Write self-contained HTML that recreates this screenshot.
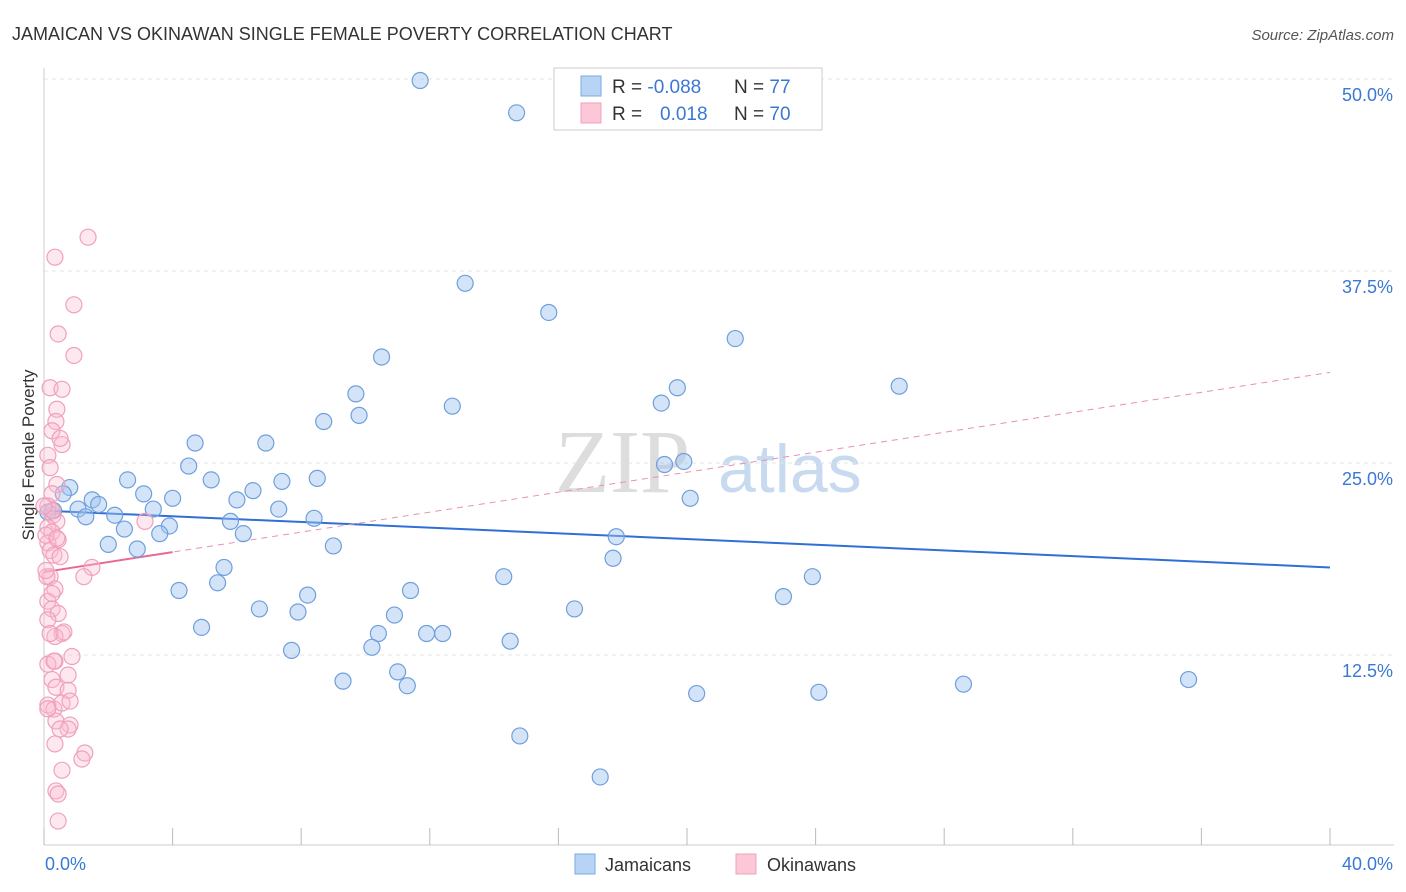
<!DOCTYPE html>
<html><head><meta charset="utf-8"><style>
body{margin:0;background:#fff;font-family:"Liberation Sans",sans-serif;}
svg{display:block}
</style></head><body>
<svg id="chart" width="1406" height="892" xmlns="http://www.w3.org/2000/svg">
<text x="12" y="40" font-size="18" fill="#333">JAMAICAN VS OKINAWAN SINGLE FEMALE POVERTY CORRELATION CHART</text>
<text x="1394" y="40" font-size="15" fill="#555" text-anchor="end" font-style="italic">Source: ZipAtlas.com</text>
<text x="555" y="492" font-size="90" fill="#ddd" font-family="Liberation Serif">ZIP</text>
<text x="718" y="492" font-size="68" fill="#c8daf0">atlas</text>
<g id="grid"></g>
<g id="axes"></g>
<text transform="translate(34,455) rotate(-90)" font-size="17" fill="#333" text-anchor="middle">Single Female Poverty</text>
<g id="trends"></g>
<g id="pts"></g>
<g>
<rect x="554" y="68" width="268" height="62" fill="#fff" stroke="#ccc"/>
<rect x="581" y="76" width="20" height="20" fill="#b8d4f4" stroke="#7aaae0"/>
<rect x="581" y="103" width="20" height="20" fill="#fcc8d8" stroke="#f0a0bc"/>
<text x="612" y="93" font-size="19" fill="#333">R = <tspan fill="#3a78d4">-0.088</tspan></text>
<text x="734" y="93" font-size="19" fill="#333">N = <tspan fill="#3a78d4">77</tspan></text>
<text x="612" y="120" font-size="19" fill="#333">R = <tspan fill="#3a78d4" x="660">0.018</tspan></text>
<text x="734" y="120" font-size="19" fill="#333">N = <tspan fill="#3a78d4">70</tspan></text>
</g>
<g>
<rect x="575" y="854" width="20" height="20" fill="#b8d4f4" stroke="#7aaae0"/>
<text x="605" y="871" font-size="18" fill="#333">Jamaicans</text>
<rect x="736" y="854" width="20" height="20" fill="#fcc8d8" stroke="#f0a0bc"/>
<text x="767" y="871" font-size="18" fill="#333">Okinawans</text>
</g>
</svg>
<script>
const yTicks=[12.5,25,37.5,50];
const yTickLabels=["12.5%","25.0%","37.5%","50.0%"];
const xTickLabels=["0.0%","40.0%"];
const blueX=[11.7,14.7,13.1,15.7,10.5,21.5,9.7,12.7,19.7,26.6,19.2,8.7,9.8,4.7,6.9,4.5,19.3,19.9,2.6,5.2,7.4,8.5,0.8,3.1,6.5,4.0,0.6,1.5,1.7,3.4,6.0,20.1,0.3,1.06,0.12,1.3,2.2,7.3,8.4,5.8,3.9,2.5,3.6,6.2,17.8,2.0,2.9,9.0,17.7,5.6,14.3,23.9,5.4,11.4,4.2,8.2,6.7,7.9,16.5,10.9,23.0,4.9,10.4,11.9,12.4,14.5,10.2,7.7,11.0,9.3,11.3,20.3,24.1,28.6,35.6,14.8,17.3];
const blueY=[49.9,47.8,36.7,34.8,31.9,33.1,29.5,28.7,29.9,30.0,28.9,27.7,28.1,26.3,26.3,24.8,24.9,25.1,23.9,23.9,23.8,24.0,23.4,22.99,23.2,22.7,23.0,22.6,22.3,22.0,22.6,22.7,21.9,22.0,21.8,21.5,21.6,22.0,21.4,21.2,20.9,20.7,20.4,20.4,20.2,19.7,19.4,19.6,18.8,18.2,17.6,17.6,17.2,16.7,16.7,16.4,15.5,15.3,15.5,15.1,16.3,14.3,13.9,13.9,13.9,13.4,13.0,12.8,11.4,10.8,10.5,9.99,10.07,10.6,10.9,7.23,4.56];
const pinkX=[1.37,0.34,0.93,0.44,0.93,0.19,0.56,0.4,0.37,0.25,0.56,0.5,0.12,0.19,0.4,0.25,0.12,0.28,0.4,3.14,0.12,0.25,0.44,0.12,0.19,0.31,1.49,1.24,0.19,0.34,0.12,0.25,0.44,0.12,0.56,0.34,0.87,0.34,0.12,0.75,0.25,0.37,0.75,0.12,0.31,0.56,0.37,0.81,0.75,0.5,0.34,1.27,1.18,0.37,0.44,0.44,0.25,0.06,0.0,0.5,0.09,0.4,0.25,0.19,0.62,0.31,0.81,0.12,0.56,0.06];
const pinkY=[39.7,38.4,35.3,33.4,32.0,29.9,29.8,28.5,27.7,27.1,26.2,26.6,25.5,24.7,23.6,23.0,22.2,21.6,21.2,21.2,20.8,20.5,20.0,19.8,19.3,19.0,18.2,17.6,17.6,16.8,16.0,15.5,15.2,14.8,13.9,13.7,12.4,12.1,11.9,11.2,10.9,10.4,10.2,9.24,8.98,9.37,8.2,7.94,7.68,7.68,6.71,6.12,5.73,3.65,3.45,1.69,21.9,20.3,22.2,18.9,17.6,20.1,16.5,13.9,14.0,12.1,9.5,9.0,5.0,18.0];
const blueTrend=[-0.088,21.9,18.2];
const pinkTrend=[0.018,17.9,19.2,30.9];
const X0=44,X1=1330,Y0=847,PX=(X1-X0)/40,PY=15.36;
const sx=v=>X0+v*PX, sy=v=>Y0-v*PY;
const NS="http://www.w3.org/2000/svg";
function mk(tag,attrs,parent){const e=document.createElementNS(NS,tag);for(const k in attrs)e.setAttribute(k,attrs[k]);document.getElementById(parent).appendChild(e);return e;}
yTicks.forEach((t,i)=>{
 const g=mk('line',{x1:X0,x2:1394,y1:sy(t),y2:sy(t),stroke:'#e4e4e4','stroke-dasharray':'4,4'},'grid');
 
 
 const l=mk('text',{x:1393,y:sy(t)+22,'font-size':18,fill:'#3a78d4','text-anchor':'end'},'axes');
 l.textContent=yTickLabels[i];
 
 
});
const ax=mk('line',{x1:X0,x2:1394,y1:845,y2:845,stroke:'#ccc'},'axes');


const ay=mk('line',{x1:X0,x2:X0,y1:68,y2:845,stroke:'#ccc'},'axes');


for(let i=0;i<=10;i++){const t=mk('line',{x1:sx(i*4),x2:sx(i*4),y1:828,y2:845,stroke:'#bbb'},'axes');
 
 }
[[X0+1,'start',0],[1393,'end',1]].forEach(([x,a,i])=>{const t=mk('text',{x:x,y:870,'font-size':18,fill:'#3a78d4','text-anchor':a},'axes');t.textContent=xTickLabels[i];
 
 });
const bl=mk('line',{x1:sx(0),y1:sy(blueTrend[1]),x2:sx(40),y2:sy(blueTrend[2]),stroke:'#2f6fd6','stroke-width':2},'trends');


const pd=mk('line',{x1:sx(0),y1:sy(pinkTrend[1]),x2:sx(40),y2:sy(pinkTrend[3]),stroke:'#e890b0','stroke-width':1,'stroke-dasharray':'6,5'},'trends');


const ps=mk('line',{x1:sx(0),y1:sy(pinkTrend[1]),x2:sx(4),y2:sy(pinkTrend[2]),stroke:'#e86a94','stroke-width':2},'trends');


blueX.forEach((v,i)=>{const c=mk('circle',{cx:sx(v),cy:sy(blueY[i]),r:8,fill:'rgba(160,196,240,0.45)',stroke:'#6f9fdc','stroke-width':1.2},'pts');
 
 });
pinkX.forEach((v,i)=>{const c=mk('circle',{cx:sx(v),cy:sy(pinkY[i]),r:8,fill:'rgba(250,190,210,0.35)',stroke:'#f0a0bc','stroke-width':1.2},'pts');
 
 });
</script>
</body></html>
